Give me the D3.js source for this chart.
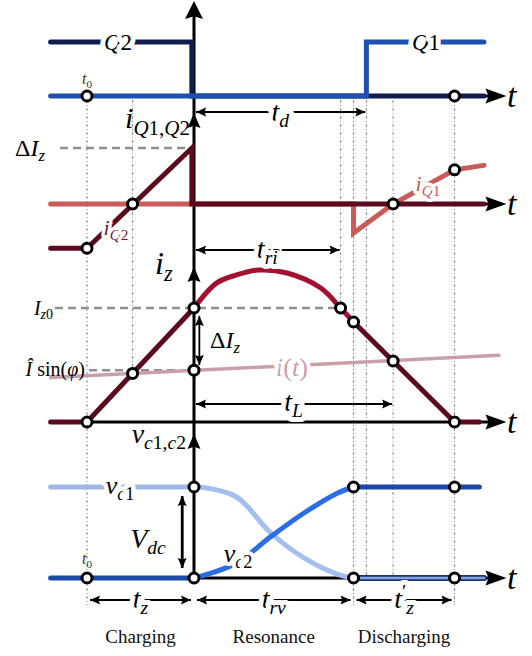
<!DOCTYPE html>
<html>
<head>
<meta charset="utf-8">
<script src="https://cdn.jsdelivr.net/npm/d3@7"></script>
<style>
  html, body { margin: 0; padding: 0; background: #fff; }
  svg { display: block; }
</style>
</head>
<body>
<script>
// time axis in units of t_z (t0 = 0, end of charging = 1)
const tLeft = -0.34;
const tArrow = 3.92;

// gate signals (0 = off, 1 = on)
const q2Gate = [[-0.34, 1], [0.98, 1], [0.98, 0], [3.71, 0]];
const q1Gate = [[-0.34, 0], [2.611, 0], [2.611, 1], [3.71, 1]];
const gateMarks = [[0, 0], [3.435, 0]];

// switch currents, in units of ΔIz
const iQ2 = [[-0.34, -0.79], [0, -0.79], [0.98, 1], [0.98, 0], [3.71, 0]];
const iQ1 = [[-0.34, 0], [2.491, 0], [2.491, -0.52], [2.861, 0], [3.435, 0.61], [3.71, 0.69]];
const iQMarks = [[0, -0.79], [0.426, 0], [2.861, 0], [3.435, 0.61]];

// inductor current, in units of Iz0
const izCharging = [[-0.34, 0], [0, 0], [1, 1]];
const izResonance = [[1, 1], [1.213, 1.22], [1.398, 1.29], [1.602, 1.333], [1.87, 1.307], [2.185, 1.175], [2.37, 1], [2.491, 0.877]];
const izDischarging = [[2.491, 0.877], [3.435, 0], [3.667, 0]];
const iLoad = [[-0.34, 0.39], [3.85, 0.585]];
const iSinPhi = 0.455;
const izMarks = [[0, 0], [0.426, 0.426], [1, 1], [1, 0.455], [2.37, 1], [2.491, 0.877], [2.861, 0.535], [3.435, 0]];

// capacitor voltages, in units of Vdc
const vc1High = [[-0.34, 1], [1, 1]];
const vc1Fall = [[1, 1], [1.083, 0.995], [1.398, 0.89], [1.713, 0.5], [2.028, 0.22], [2.343, 0.04], [2.491, 0]];
const vc1Low = [[2.491, 0], [3.71, 0]];
const vc2Low = [[-0.34, 0], [1, 0]];
const vc2Rise = [[1, 0], [1.083, 0.025], [1.398, 0.165], [1.713, 0.45], [2.028, 0.714], [2.343, 0.934], [2.491, 1]];
const vc2High = [[2.491, 1], [3.667, 1]];
const vMarks = [[0, 0], [1, 0], [1, 1], [2.491, 1], [2.491, 0], [3.435, 1], [3.435, 0]];

// instants with dash-dot guides
const guideTimes = [0, 0.426, 2.37, 2.491, 2.611, 2.861, 3.435];

// operating intervals
const phaseNames = ["Charging", "Resonance", "Discharging"];
const phaseBounds = [0, 1, 2.491, 3.435];

const navy = "#0f1d4f", qBlue = "#1e50b0", maroon = "#5c0b1f", salmon = "#c95b5b",
      crimson = "#a4102f", pink = "#c9a0a8", lightBlue = "#a4bef0",
      brightBlue = "#2a6de6", darkBlue = "#1b49a6";
const serif = "'Liberation Serif', 'DejaVu Serif', serif";

const svg = d3.select("body").append("svg").attr("width", 532).attr("height", 656)
  .attr("font-family", serif);

const x = d3.scaleLinear().domain([0, 1]).range([87, 194]);
const yG = d3.scaleLinear().domain([0, 1]).range([96, 42]);
const yQ = d3.scaleLinear().domain([0, 1]).range([204, 148]);
const yZ = d3.scaleLinear().domain([0, 1]).range([422, 308]);
const yV = d3.scaleLinear().domain([0, 1]).range([578, 487]);
const ax = x(1);

function line(y, curve) {
  return d3.line().x(d => x(d[0])).y(d => y(d[1])).curve(curve || d3.curveLinear);
}

function trace(data, y, color, w, curve) {
  svg.append("path").attr("d", line(y, curve)(data))
    .attr("fill", "none").attr("stroke", color).attr("stroke-width", w)
    .attr("stroke-linecap", "round").attr("stroke-linejoin", "miter");
}

function marks(data, y) {
  svg.append("g").selectAll("circle").data(data).join("circle")
    .attr("cx", d => x(d[0])).attr("cy", d => y(d[1])).attr("r", 5)
    .attr("fill", "#fff").attr("stroke", "#000").attr("stroke-width", 3);
}

function mathLabel(px, py, parts, size, opt = {}) {
  const t = svg.append("text").attr("x", px).attr("y", py)
    .attr("font-family", serif)
    .attr("font-size", size).attr("text-anchor", opt.anchor || "middle")
    .attr("fill", opt.color || "#000");
  if (opt.halo) {
    t.attr("stroke", "#fff").attr("stroke-width", opt.halo)
      .attr("paint-order", "stroke").attr("stroke-linejoin", "round");
  }
  let shift = 0;
  parts.forEach(p => {
    const small = p.sub || p.sup;
    const target = p.sub ? size * 0.22 : p.sup ? -size * 0.36 : 0;
    t.append("tspan").attr("dy", target - shift)
      .attr("font-size", small ? size * 0.7 : size)
      .attr("font-style", p.it === false ? "normal" : "italic").text(p.s);
    shift = target;
  });
  return t;
}

function head(tx, ty, dir, len, half) {
  // dir: direction of the arrow, in radians
  const c = Math.cos(dir), s = Math.sin(dir);
  const bx = tx - c * len, by = ty - s * len;
  svg.append("path")
    .attr("d", `M${tx},${ty}L${bx - s * half},${by + c * half}L${bx + c * len * 0.15},${by + s * len * 0.15}L${bx + s * half},${by - c * half}Z`)
    .attr("fill", "#000");
}

function dim(x1, y1, x2, y2, w) {
  const a = Math.atan2(y2 - y1, x2 - x1);
  svg.append("line").attr("x1", x1).attr("y1", y1).attr("x2", x2).attr("y2", y2)
    .attr("stroke", "#000").attr("stroke-width", w || 1.8);
  head(x2, y2, a, 10, 4.5);
  head(x1, y1, a + Math.PI, 10, 4.5);
}

// dash-dot guides
const guideEnd = [yV(0) + 27, yZ(0.426), yZ(1), yV(0) + 27, yV(0), yV(0), yV(0) + 27];
svg.append("g").selectAll("line").data(guideTimes).join("line")
  .attr("x1", d => x(d)).attr("x2", d => x(d))
  .attr("y1", yG(0) + 4).attr("y2", (d, i) => guideEnd[i])
  .attr("stroke", "#8a8a8a").attr("stroke-width", 1).attr("stroke-dasharray", "3,2,1,2");

// dashed reference levels
const dashed = (xa, xb, yy) => svg.append("line").attr("x1", xa).attr("x2", xb)
  .attr("y1", yy).attr("y2", yy).attr("stroke", "#8f8f8f").attr("stroke-width", 2.5)
  .attr("stroke-dasharray", "8,5");
dashed(60, ax, yQ(1));
dashed(55, x(2.35), yZ(1));
dashed(89, ax, yZ(iSinPhi));

// horizontal time axes
[yG(0), yQ(0), yZ(0), yV(0)].forEach(yy => {
  svg.append("line").attr("x1", x(tLeft)).attr("x2", x(tArrow) - 8)
    .attr("y1", yy).attr("y2", yy).attr("stroke", "#000").attr("stroke-width", 3);
});

// vertical axis
svg.append("line").attr("x1", ax).attr("x2", ax).attr("y1", 8).attr("y2", yV(0))
  .attr("stroke", "#000").attr("stroke-width", 3);

// gate signals
trace(q2Gate, yG, navy, 5);
trace(q1Gate, yG, qBlue, 5);

// switch currents
trace(iQ1, yQ, salmon, 5);
trace(iQ2, yQ, maroon, 5);

// inductor current
trace(iLoad, yZ, pink, 3.5);
trace(izCharging, yZ, maroon, 5);
trace(izResonance, yZ, crimson, 5, d3.curveCatmullRom.alpha(0.5));
trace(izDischarging, yZ, maroon, 5);

// capacitor voltages
trace(vc2Low, yV, darkBlue, 5);
trace(vc1High, yV, "#9fb6e8", 5);
trace(vc1Fall, yV, lightBlue, 5, d3.curveCatmullRom.alpha(0.5));
trace(vc2Rise, yV, brightBlue, 5, d3.curveCatmullRom.alpha(0.5));
trace(vc2High, yV, darkBlue, 5);
trace(vc1Low, yV, "#1a3275", 6);
trace(vc1Low, yV, "#86a3e0", 2.5);

// arrow heads on the time axes
[yG(0), yQ(0), yZ(0), yV(0)].forEach(yy => head(x(tArrow), yy, 0, 21, 7.5));
// arrow heads on the vertical axis
head(ax, 1, -Math.PI / 2, 18, 9);
[113, 267, 434].forEach(yy => head(ax, yy, -Math.PI / 2, 15, 6.5));

marks(gateMarks, yG);
marks(iQMarks, yQ);
marks(izMarks, yZ);
marks(vMarks, yV);

// interval arrows
dim(ax + 2, yG(0) + 16, x(2.611) - 1, yG(0) + 16);
dim(ax + 2, 250, x(2.37) - 1, 250);
dim(ax + 2, 404, x(2.861) - 1, 404);
dim(x(1.05), yZ(0.93), x(1.05), yZ(0.5));
dim(x(0.89), yV(0.9), x(0.89), yV(0.11), 2.8);
const spanY = yV(0) + 22;
d3.range(3).forEach(i => dim(x(phaseBounds[i]) + 3, spanY, x(phaseBounds[i + 1]) - 3, spanY));

// labels
const T = (s) => ({ s });
const S = (s, it = true) => ({ s, sub: true, it });
const R = (s) => ({ s, it: false });

mathLabel(118, yG(1) + 8, [T("Q"), R("2")], 23, { halo: 10 });
mathLabel(426, yG(1) + 8, [T("Q"), R("1")], 23, { halo: 10 });
[yG(0), yQ(0), yZ(0), yV(0)].forEach(yy =>
  mathLabel(507, yy + 11, [T("t")], 34, { anchor: "start" }));
mathLabel(x(0), yG(0) - 12, [T("t"), S("0", false)], 16, { color: "#333" });
mathLabel(x(0), yV(0) - 14, [T("t"), S("0", false)], 16, { color: "#333" });

const mid = (a, b) => (x(a) + x(b)) / 2;
mathLabel(mid(1, 2.611), 121, [T("t"), S("d")], 28, { halo: 10 });
mathLabel(190, 128, [T("i"), S("Q"), S("1,", false), S("Q"), S("2", false)], 30, { anchor: "end" });
mathLabel(15, yQ(1) + 8, [R("Δ"), T("I"), S("z")], 24, { anchor: "start" });
mathLabel(116, 235, [T("i"), S("Q"), S("2", false)], 22, { color: "#7a1a30", halo: 7 });
mathLabel(428, 191, [T("i"), S("Q"), S("1", false)], 22, { color: salmon, halo: 7 });

mathLabel(mid(1, 2.37), 258, [T("t"), S("ri")], 28, { halo: 10 });
mathLabel(155, 274, [T("i"), S("z")], 32, { anchor: "start" });
mathLabel(53, yZ(1) + 7, [T("I"), S("z"), S("0", false)], 20, { anchor: "end" });
mathLabel(85, yZ(iSinPhi) + 6, [T("Î"), R(" sin("), T("φ"), R(")")], 20, { anchor: "end" });
mathLabel(210, 348, [R("Δ"), T("I"), S("z")], 24, { anchor: "start" });
mathLabel(292, 376, [T("i"), R("("), T("t"), R(")")], 26, { color: pink, halo: 8 });
mathLabel(mid(1, 2.861), 411, [T("t"), S("L")], 28, { halo: 10 });

mathLabel(186, 443, [T("v"), S("c"), S("1,", false), S("c"), S("2", false)], 28, { anchor: "end" });
mathLabel(120, 494, [T("v"), S("c"), S("1", false)], 26, { halo: 9 });
mathLabel(148, 548, [T("V"), S("dc")], 28);
mathLabel(238, 562, [T("v"), S("c"), S("2", false)], 26, { halo: 8 });

const spanLabels = [
  [T("t"), S("z")],
  [T("t"), S("rv")],
  [T("t"), { s: "′", sup: true, it: false }, S("z")]
];
spanLabels.forEach((parts, i) =>
  mathLabel(mid(phaseBounds[i], phaseBounds[i + 1]), spanY + 8, parts, 28, { halo: 10 }));

svg.append("g").selectAll("text").data(phaseNames).join("text")
  .attr("x", (d, i) => mid(phaseBounds[i], phaseBounds[i + 1]))
  .attr("y", 643).attr("text-anchor", "middle").attr("font-size", 19)
  .attr("font-family", serif).attr("fill", "#111").text(d => d);
</script>
</body>
</html>
